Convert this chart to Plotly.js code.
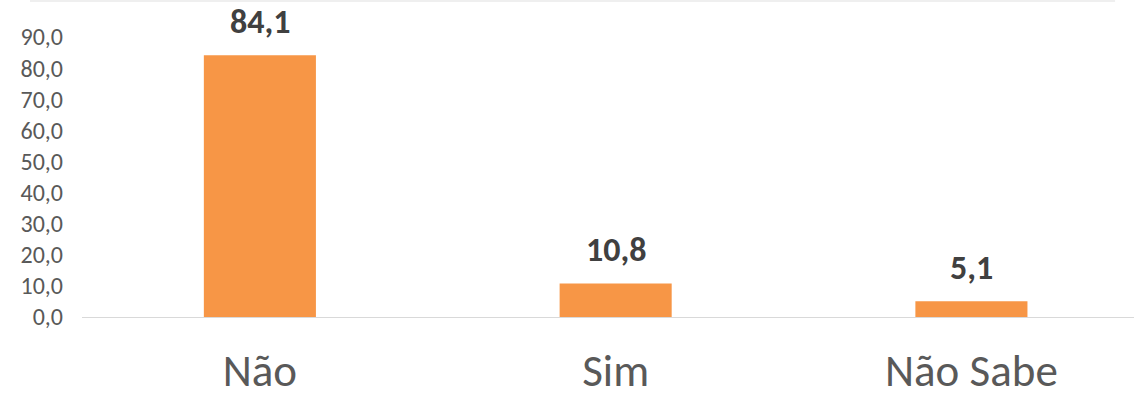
<!DOCTYPE html>
<html>
<head>
<meta charset="utf-8">
<script src="https://cdn.plot.ly/plotly-3.0.1.min.js"></script>
<style>
html,body{margin:0;padding:0;background:#fff;}
#chart{width:1134px;height:401px;}
</style>
</head>
<body>
<div id="chart"></div>
<script>
const categories = ["Não", "Sim", "Não Sabe"];
const values = [84.1, 10.8, 5.1];
const yTickValues = [0, 10, 20, 30, 40, 50, 60, 70, 80, 90];

const FONT = "Carlito, Calibri, Lato, sans-serif";

const fmt = v => v.toFixed(1).replace('.', ',');

const trace = {
  type: 'bar',
  x: categories,
  y: values,
  marker: {color: '#F79646'},
  hoverinfo: 'skip'
};

const annotations = categories.map((c, i) => ({
  x: c,
  y: values[i],
  xref: 'x',
  yref: 'y',
  text: '<b>' + fmt(values[i]) + '</b>',
  showarrow: false,
  yanchor: 'bottom',
  xanchor: 'center',
  yshift: 11,
  font: {family: FONT, size: 34, color: '#404040'}
}));

const layout = {
  width: 1134,
  height: 401,
  margin: {l: 82, r: 0, t: 37, b: 84, pad: 0},
  paper_bgcolor: '#ffffff',
  plot_bgcolor: '#ffffff',
  showlegend: false,
  separators: ',.',
  bargap: 0.685,
  xaxis: {
    type: 'category',
    range: [-0.5, 2.457],
    showgrid: false,
    zeroline: false,
    showline: true,
    linecolor: '#d9d9d9',
    linewidth: 1.3,
    ticks: '',
    ticklabelstandoff: 14,
    tickfont: {family: FONT, size: 45, color: '#595959'},
    fixedrange: true
  },
  yaxis: {
    range: [0, 90],
    tickvals: yTickValues,
    tickformat: '.1f',
    showgrid: false,
    zeroline: false,
    showline: false,
    ticks: '',
    ticklabelstandoff: 18,
    tickfont: {family: FONT, size: 24, color: '#595959'},
    fixedrange: true
  },
  annotations: annotations,
  shapes: [{
    type: 'rect',
    xref: 'paper', yref: 'paper',
    x0: -0.0494, x1: 0.982,
    y0: 1.125, y1: 1.14,
    fillcolor: '#efefef',
    line: {width: 0},
    layer: 'below'
  }]
};

Plotly.newPlot('chart', [trace], layout, {displayModeBar: false, staticPlot: true});
</script>
</body>
</html>
